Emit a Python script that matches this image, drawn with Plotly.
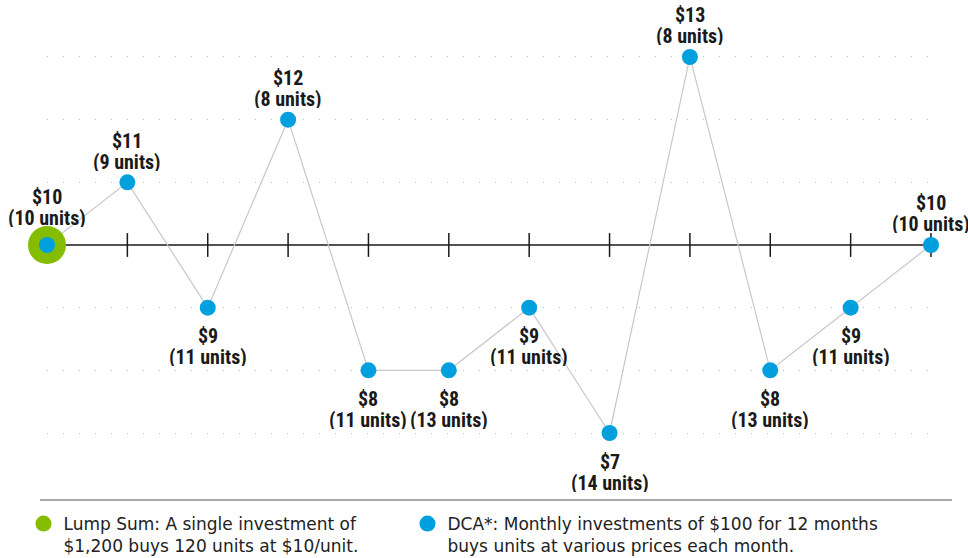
import plotly.graph_objects as go

# ---- data ----
months = list(range(12))
dca_prices = [10, 11, 9, 12, 8, 8, 9, 7, 13, 8, 9, 10]
dca_units = [10, 9, 11, 8, 11, 13, 11, 14, 8, 13, 11, 10]
lump_month = [0]
lump_price = [10]
grid_levels = [7, 8, 9, 11, 12, 13]
base_price = 10
legend_lump = "Lump Sum: A single investment of<br>$1,200 buys 120 units at $10/unit."
legend_dca = "DCA*: Monthly investments of $100 for 12 months<br>buys units at various prices each month."

BLUE = "#00A0DF"
GREEN = "#84BD00"
LABEL_FONT = ("Roboto Condensed, Noto Sans Condensed, DejaVu Sans Condensed, "
              "Liberation Sans Narrow, Arial Narrow, Liberation Sans, sans-serif")
LEGEND_FONT = "DejaVu Sans, Verdana, sans-serif"

fig = go.Figure()

# baseline axis with tick marks at each month
fig.add_trace(go.Scatter(
    x=months, y=[base_price] * len(months), mode="lines+markers",
    line=dict(color="#1a1a1a", width=1.5),
    marker=dict(symbol="line-ns", size=17, line=dict(color="#1a1a1a", width=1.5)),
    showlegend=False, hoverinfo="skip", cliponaxis=False,
))

# connecting line
fig.add_trace(go.Scatter(
    x=months, y=dca_prices, mode="lines",
    line=dict(color="#c8c8c8", width=1.2),
    showlegend=False, hoverinfo="skip", cliponaxis=False,
))

# lump sum marker
fig.add_trace(go.Scatter(
    x=lump_month, y=lump_price, mode="markers",
    marker=dict(color=GREEN, size=38),
    name=legend_lump, cliponaxis=False, legend="legend",
))

# DCA markers
fig.add_trace(go.Scatter(
    x=months, y=dca_prices, mode="markers",
    marker=dict(color=BLUE, size=16),
    name=legend_dca, cliponaxis=False, legend="legend2",
))

# labels
for m, p, u in zip(months, dca_prices, dca_units):
    if p >= base_price:
        extra = -6 if m in lump_month else 0
        s_price, s_units = 42 - extra, 21 - extra
    else:
        s_price, s_units = -28, -49
    for txt, shift in ((f"${p}", s_price), (f"({u} units)", s_units)):
        fig.add_annotation(x=m, y=p, text=txt, showarrow=False, yanchor="middle",
                           yshift=shift, height=19, borderpad=0, valign="middle",
                           font=dict(family=LABEL_FONT, size=20, color="#1a1a1a", weight="bold"))

# separator line
fig.add_shape(type="line", xref="paper", yref="paper",
              x0=(40 - 47) / 884, x1=(952 - 47) / 884, y0=0, y1=0,
              line=dict(color="#a8a8a8", width=2))

legend_common = dict(orientation="v", xanchor="left", yanchor="top", valign="top",
                     font=dict(family=LEGEND_FONT, size=17, color="#222222"),
                     itemclick=False, itemdoubleclick=False, bgcolor="rgba(0,0,0,0)",
                     borderwidth=0)

fig.update_layout(
    width=968, height=558,
    margin=dict(l=47, r=37, t=0, b=58, autoexpand=False),
    paper_bgcolor="white", plot_bgcolor="white",
    xaxis=dict(range=[0, 11], visible=False, fixedrange=True),
    yaxis=dict(range=[5.931, 13.909], tickvals=grid_levels, showticklabels=False,
               showgrid=True, gridcolor="#bdbdbd", gridwidth=1, griddash="1px,15px",
               zeroline=False, showline=False, ticks="", fixedrange=True),
    showlegend=True,
    legend=dict(x=-0.0266, y=-0.012, **legend_common),
    legend2=dict(x=0.4078, y=-0.012, **legend_common),
)

fig.write_html(
    "out.html",
    config={"displayModeBar": False},
    post_script="document.body.style.margin='0';document.body.style.overflow='hidden';",
)
